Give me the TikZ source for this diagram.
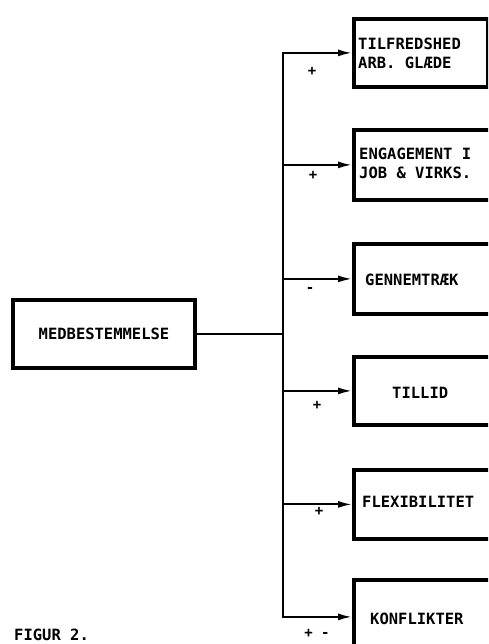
\documentclass[tikz,border=0pt]{standalone}
\usepackage{fontspec}
\setmainfont{DejaVu Sans Mono}
\usetikzlibrary{arrows.meta}
\begin{document}
\begin{tikzpicture}[x=1pt,y=-1pt,
 box/.style={draw,line width=3.8pt,minimum width=134pt,anchor=north west,inner sep=0pt},
 lbl/.style={font=\bfseries\fontsize{15.5}{19}\selectfont, inner sep=0pt},
 arr/.style={line width=2pt,-{Latex[length=14pt,width=7pt]}},
 wire/.style={line width=2pt},
 sign/.style={font=\bfseries\fontsize{14}{14}\selectfont, inner sep=0pt}]
\clip (0,0) rectangle (488,644);
\fill[white] (0,0) rectangle (488,644);
% target boxes
\node[box,minimum height=68pt] (b1) at (352,17) {};
\node[box,minimum height=70pt,minimum width=140pt] (b2) at (352,128) {};
\node[box,minimum height=70pt,minimum width=140pt] (b3) at (352,242) {};
\node[box,minimum height=68pt,minimum width=140pt] (b4) at (352,355) {};
\node[box,minimum height=69pt,minimum width=140pt] (b5) at (352,468) {};
\node[box,minimum height=74pt,minimum width=140pt] (b6) at (352,578) {};
% texts
\node[lbl,align=left,anchor=west] (t1) at (358,53) {TILFREDSHED\\ARB. GLÆDE};
\node[lbl,align=left,anchor=west] (t2) at (359,163) {ENGAGEMENT I\\JOB \& VIRKS.};
\node[lbl,anchor=west] (t3) at (365,280) {GENNEMTRÆK};
\node[lbl,anchor=west] (t4) at (392,393) {TILLID};
\node[lbl,anchor=west] (t5) at (362,502) {FLEXIBILITET};
\node[lbl,anchor=west] (t6) at (370,619) {KONFLIKTER};
% source box
\node[box,anchor=center,minimum width=182pt,minimum height=68pt,font=\bfseries\fontsize{15.5}{19}\selectfont] (m) at (104,334) {MEDBESTEMMELSE};
% bus
\coordinate (busx) at (283,0);
\coordinate (jm) at (m.east -| busx);
\coordinate (j1) at (b1.west -| busx);
\coordinate (j2) at (b2.west -| busx);
\coordinate (j3) at (b3.west -| busx);
\coordinate (j4) at (b4.west -| busx);
\coordinate (j5) at (b5.west -| busx);
\coordinate (j6) at (b6.west -| busx);
\draw[wire] (m.east) -- (jm);
\draw[wire,line cap=rect] (j1) -- (j6);
\foreach \i in {1,...,6}{\draw[arr] (j\i) -- (b\i.west);}
% signs
\node[sign] (s1) at (312,71) {+};
\node[sign] (s2) at (313,175) {+};
\node[sign] (s3) at (310,290) {-};
\node[sign] (s4) at (317,405) {+};
\node[sign] (s5) at (319,511) {+};
\node[sign] (s6) at (317,633) {+ -};
\node[lbl,anchor=west] (fig) at (14,635) {FIGUR 2.};
\end{tikzpicture}
\end{document}
